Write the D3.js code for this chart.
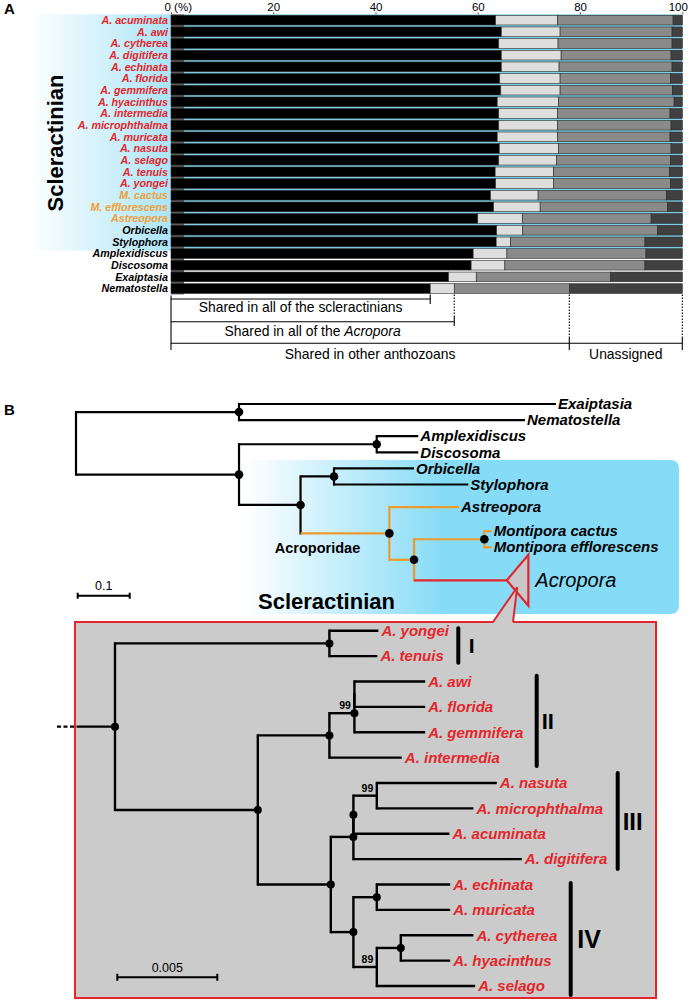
<!DOCTYPE html>
<html><head><meta charset="utf-8">
<script src="https://cdn.jsdelivr.net/npm/d3@7"></script>
<style>
body{margin:0;background:#fff}
svg{display:block}
text{font-family:"Liberation Sans",Arial,Helvetica,sans-serif}
</style>
</head><body>
<svg id="c" width="689" height="1002"></svg>
<script>
// ---------------- DATA ----------------
const species = ["A. acuminata","A. awi","A. cytherea","A. digitifera","A. echinata","A. florida","A. gemmifera","A. hyacinthus","A. intermedia","A. microphthalma","A. muricata","A. nasuta","A. selago","A. tenuis","A. yongei","M. cactus","M. efflorescens","Astreopora","Orbicella","Stylophora","Amplexidiscus","Discosoma","Exaiptasia","Nematostella"];
const speciesGroup = ["Acropora","Acropora","Acropora","Acropora","Acropora","Acropora","Acropora","Acropora","Acropora","Acropora","Acropora","Acropora","Acropora","Acropora","Acropora","Acroporidae","Acroporidae","Acroporidae","Scleractinia","Scleractinia","other","other","other","other"];
const sharedScleractinians = [63.5,64.6,64.1,64.6,64.6,64.3,64.5,63.8,64.1,64.1,63.8,64.2,64.1,63.4,63.5,62.5,63.1,60.0,63.7,63.6,59.1,58.7,54.3,50.7];
const sharedAcropora      = [12.1,11.5,11.6,11.7,11.3,11.8,11.6,12.0,11.5,11.5,11.8,11.6,11.3,11.4,11.3,9.3,9.1,8.7,5.1,2.8,6.6,6.6,5.4,4.7];
const sharedAnthozoans    = [22.6,21.9,22.3,21.5,22.1,21.6,22.0,22.6,22.0,22.2,22.0,22.0,22.3,22.7,22.9,25.1,24.9,25.2,26.4,26.3,27.2,27.4,26.3,22.5];
const unassigned          = [1.8,2.0,2.0,2.2,2.0,2.3,1.9,1.6,2.4,2.2,2.4,2.2,2.3,2.5,2.3,3.1,2.9,6.1,4.8,7.3,7.1,7.3,14.0,22.1];
const percentTicks = [0,20,40,60,80,100];
const segmentKeys = ["sharedScleractinians","sharedAcropora","sharedAnthozoans","unassigned"];
const segmentColors = ["#000000","#dedede","#8a8a8a","#404040"];

// Anthozoan tree (Newick; "*" = node with filled dot)
const anthozoanNewick = "((Exaiptasia:0.6096,Nematostella:0.55)*:0.3135,((Amplexidiscus:0.08,Discosoma:0.08)*:0.2648,((Orbicella:0.1538,Stylophora:0.2583)*:0.0644,(Astreopora:0.134,((Montipora cactus:0.0142,Montipora efflorescens:0.0142)*:0.1352,Acropora:0.1783)*:0.0475)Acroporidae*:0.1708)*:0.1183)*:0.3135);";
const anthozoanLeaves = ["Exaiptasia","Nematostella","Amplexidiscus","Discosoma","Orbicella","Stylophora","Astreopora","Montipora cactus","Montipora efflorescens","Acropora"];
const anthozoanLeafRows = [0,1,2,3,4,5,6.4,7.9,8.9,10.95];
const acroporaCollapsedDepth = 0.0415;
const acroporaCollapsedRows = 1.58;

// Acropora tree
const acroporaNewick = "((A. yongei:0.00245,A. tenuis:0.0024)*:0.01072,((((A. awi:0.00354,A. florida:0.00354):0,A. gemmifera:0.00354)99*:0.00125,A. intermedia:0.00362)*:0.00358,((((A. nasuta:0.006,A. microphthalma:0.00483)99:0.00117,A. acuminata:0.0048)*:0,A. digitifera:0.00842)*:0.00113,((A. echinata:0.00367,A. muricata:0.00367)*:0.00117,((A. cytherea:0.00363,A. hyacinthus:0.00247)*:0.0012,A. selago:0.00492)89:0.00117)*:0.00113)*:0.00365)*:0.00714)*;";
const acroporaLeaves = ["A. yongei","A. tenuis","A. awi","A. florida","A. gemmifera","A. intermedia","A. nasuta","A. microphthalma","A. acuminata","A. digitifera","A. echinata","A. muricata","A. cytherea","A. hyacinthus","A. selago"];
const cladeNames = ["I","II","III","IV"];
const cladeFirstLeaf = ["A. yongei","A. awi","A. nasuta","A. echinata"];
const cladeLastLeaf = ["A. tenuis","A. intermedia","A. digitifera","A. selago"];

// ---------------- HELPERS ----------------
const RED = "#e3262b", ORANGE = "#ec9a2e";
const svg = d3.select("#c");
const defs = svg.append("defs");
function hGrad(id, x1, x2, stops){
  const g = defs.append("linearGradient").attr("id",id).attr("gradientUnits","userSpaceOnUse")
    .attr("x1",x1).attr("x2",x2).attr("y1",0).attr("y2",0);
  stops.forEach(s=>g.append("stop").attr("offset",s[0]).attr("stop-color",s[1]).attr("stop-opacity",s[2]));
}
hGrad("gA", 28, 171, [[0,"#ffffff",1],[0.35,"#e2f6fc",1],[1,"#aae4f7",1]]);
hGrad("gB", 245, 445, [[0,"#ffffff",1],[1,"#86dbf7",1]]);

function parseNewick(s){
  let i=0;
  function node(){
    const n={children:[]};
    if(s[i]==="("){ i++; n.children.push(node()); while(s[i]===","){ i++; n.children.push(node()); } i++; }
    let lab=""; while(i<s.length && !",():;".includes(s[i])) lab+=s[i++];
    lab=lab.trim(); n.dot=lab.endsWith("*"); n.name=lab.replace("*","");
    n.len=0;
    if(s[i]===":"){ i++; let num=""; while(i<s.length && !",();".includes(s[i])) num+=s[i++]; n.len=+num; }
    if(!n.children.length) delete n.children;
    return n;
  }
  return node();
}
function layoutTree(newick, leaves, rows, xs, ys){
  const root=d3.hierarchy(parseNewick(newick));
  root.each(n=>{ n.dist = n.parent ? n.parent.dist + n.data.len : 0; n.px = xs(n.dist); });
  root.eachAfter(n=>{
    if(!n.children) n.py = ys(rows[leaves.indexOf(n.data.name)]);
    else n.py = (n.children[0].py + n.children[n.children.length-1].py)/2;
  });
  return root;
}
function drawBranches(g, root, colorOf, sw){
  root.descendants().filter(n=>n.children).forEach(n=>{
    const ys=n.children.map(c=>c.py);
    g.append("line").attr("x1",n.px).attr("x2",n.px).attr("y1",d3.min(ys)).attr("y2",d3.max(ys))
      .attr("stroke",colorOf(n)).attr("stroke-width",sw).attr("stroke-linecap","square");
    n.children.forEach(c=>{
      g.append("line").attr("x1",n.px).attr("x2",c.px).attr("y1",c.py).attr("y2",c.py)
        .attr("stroke",colorOf(c)).attr("stroke-width",sw).attr("stroke-linecap","butt");
    });
  });
}
function drawDots(g, root, r){
  g.selectAll(null).data(root.descendants().filter(n=>n.data.dot)).join("circle")
    .attr("cx",d=>d.px).attr("cy",d=>d.py).attr("r",r).attr("fill","#000");
}

// ---------------- PANEL A ----------------
const gA = svg.append("g");
gA.append("text").attr("x",4).attr("y",14).attr("font-size",15).attr("font-weight","bold").text("A");

const xA = d3.scaleLinear().domain([0,100]).range([171,682.3]);
const yA = d3.scaleBand().domain(species).range([14.3,294.4]).paddingInner(0.17).paddingOuter(0.085);
const step = yA.step();
const scleraEnd = yA("Stylophora") + step;   // last scleractinian row

gA.append("rect").attr("x",28).attr("y",14.3).attr("width",143).attr("height",scleraEnd-14.3+2).attr("fill","url(#gA)");
gA.append("rect").attr("x",171).attr("y",14.3).attr("width",13).attr("height",294.4-14.3).attr("fill","#5a5a5a");
gA.append("rect").attr("x",184).attr("y",14.3).attr("width",xA(100)-184).attr("height",scleraEnd-14.3).attr("fill","#7fd0e6");

const rowsA = species.map((s,i)=>({species:s, group:speciesGroup[i], sharedScleractinians:sharedScleractinians[i], sharedAcropora:sharedAcropora[i], sharedAnthozoans:sharedAnthozoans[i], unassigned:unassigned[i]}));
const stacked = d3.stack().keys(segmentKeys)(rowsA);
stacked.forEach((layer,k)=>{
  gA.append("g").selectAll("rect").data(layer).join("rect")
    .attr("x",d=>xA(d[0])).attr("width",d=>xA(d[1])-xA(d[0]))
    .attr("y",d=>yA(d.data.species)).attr("height",yA.bandwidth())
    .attr("fill",segmentColors[k]).attr("stroke","#2a2a2a").attr("stroke-width",0.6);
});

const axA = d3.axisTop(xA).tickValues(percentTicks).tickSize(2).tickPadding(1).tickFormat(d=>d===0?"0 (%)":d);
const axG = gA.append("g").attr("transform","translate(0,14.3)").call(axA);
axG.select(".domain").remove();
axG.selectAll("text").attr("font-size",11.5).attr("fill","#000").attr("font-family","Liberation Sans, Arial, sans-serif");
axG.selectAll(".tick line").attr("stroke","#555");
axG.selectAll(".tick").filter(d=>d===0).select("text").attr("text-anchor","start").attr("dx",-7);
axG.selectAll(".tick").filter(d=>d===100).select("text").attr("dx",-4.5);

const labColor = g => g==="Acropora"?RED:(g==="Acroporidae"?"#f0a035":"#000");
gA.append("g").selectAll("text").data(rowsA).join("text")
  .attr("x",168).attr("y",d=>yA(d.species)+yA.bandwidth()/2+3.9)
  .attr("text-anchor","end").attr("font-size",10.7).attr("font-weight","bold").attr("font-style","italic")
  .attr("fill",d=>labColor(d.group)).text(d=>d.species);

gA.append("text").attr("transform","translate(63,143) rotate(-90)").attr("text-anchor","middle")
  .attr("font-size",22).attr("font-weight","bold").text("Scleractinian");

// brackets (from Nematostella row)
const nemIdx = species.indexOf("Nematostella");
const c1 = sharedScleractinians[nemIdx];
const c2 = c1 + sharedAcropora[nemIdx];
const c3 = c2 + sharedAnthozoans[nemIdx];
const x0 = xA(0), bottomA = 294.4;
const bk = gA.append("g").attr("stroke","#000").attr("stroke-width",1.1).attr("fill","none");
bk.append("line").attr("x1",x0).attr("x2",x0).attr("y1",bottomA+1).attr("y2",350);
bk.append("line").attr("x1",x0).attr("x2",xA(c1)).attr("y1",299).attr("y2",299);
bk.append("line").attr("x1",xA(c1)).attr("x2",xA(c1)).attr("y1",bottomA).attr("y2",304);
bk.append("line").attr("x1",x0).attr("x2",xA(c2)).attr("y1",321.7).attr("y2",321.7);
bk.append("line").attr("x1",xA(c2)).attr("x2",xA(c2)).attr("y1",bottomA).attr("y2",317).attr("stroke-dasharray","1.5,1.5");
bk.append("line").attr("x1",xA(c2)).attr("x2",xA(c2)).attr("y1",317).attr("y2",326);
bk.append("line").attr("x1",x0).attr("x2",xA(100)).attr("y1",343.3).attr("y2",343.3);
[c3,100].forEach(v=>{
  bk.append("line").attr("x1",xA(v)).attr("x2",xA(v)).attr("y1",bottomA).attr("y2",337).attr("stroke-dasharray","1.5,1.5");
  bk.append("line").attr("x1",xA(v)).attr("x2",xA(v)).attr("y1",337).attr("y2",350);
});
const bt = gA.append("g").attr("font-size",13.9).attr("text-anchor","middle");
bt.append("text").attr("x",(x0+xA(c1))/2).attr("y",311.5).text("Shared in all of the scleractinians");
const t2 = bt.append("text").attr("x",(x0+xA(c2))/2).attr("y",335.8);
t2.append("tspan").text("Shared in all of the ");
t2.append("tspan").attr("font-style","italic").text("Acropora");
bt.append("text").attr("x",(x0+xA(c3))/2).attr("y",359).text("Shared in other anthozoans");
bt.append("text").attr("x",(xA(c3)+xA(100))/2).attr("y",359).text("Unassigned");

// ---------------- PANEL B (anthozoan tree) ----------------
const gB = svg.append("g");
gB.append("text").attr("x",4).attr("y",415).attr("font-size",15).attr("font-weight","bold").text("B");

gB.append("rect").attr("x",245).attr("y",460).attr("width",679-245).attr("height",614-460).attr("rx",8).attr("fill","url(#gB)");

const xT = d3.scaleLinear().domain([0,1]).range([76,76+520]);
const yT = d3.scaleLinear().domain([0,1]).range([404,420.1]);
const rootT = layoutTree(anthozoanNewick, anthozoanLeaves, anthozoanLeafRows, xT, yT);
const inAcroporidae = n => n.ancestors().some(a=>a.data.name==="Acroporidae");
const colorT = n => n.data.name==="Acropora" ? RED : (inAcroporidae(n) ? ORANGE : "#000");
const treeT = gB.append("g");
drawBranches(treeT, rootT, colorT, 2.2);

// collapsed Acropora clade
const acro = rootT.leaves().find(n=>n.data.name==="Acropora");
const triW = xT(acroporaCollapsedDepth)-xT(0), triH = yT(acroporaCollapsedRows)-yT(0);
treeT.append("path").attr("d",`M${acro.px},${acro.py}L${acro.px+triW},${acro.py-triH}L${acro.px+triW},${acro.py+triH}Z`)
  .attr("fill","#c8c8c8").attr("stroke",RED).attr("stroke-width",2.2).attr("stroke-linejoin","miter");
drawDots(treeT, rootT, 4.3);

treeT.selectAll("text.tip").data(rootT.leaves().filter(n=>n.data.name!=="Acropora")).join("text")
  .attr("x",d=>d.px+2).attr("y",d=>d.py+5.2).attr("font-size",15).attr("font-weight","bold").attr("font-style","italic")
  .text(d=>d.data.name);
treeT.append("text").attr("x",acro.px+triW+7).attr("y",acro.py+7).attr("font-size",20).attr("font-style","italic").text("Acropora");

const acrNode = rootT.descendants().find(n=>n.data.name==="Acroporidae");
treeT.append("text").attr("x",acrNode.parent.px+17).attr("y",acrNode.py+20).attr("text-anchor","middle")
  .attr("font-size",14.5).attr("font-weight","bold").text("Acroporidae");
gB.append("text").attr("x",258).attr("y",609).attr("font-size",22).attr("font-weight","bold").text("Scleractinian");

// scale bar 0.1
const sbY = 595.7, sbX = xT(0)+1.7;
const sb = gB.append("g").attr("stroke","#000").attr("stroke-width",2);
sb.append("line").attr("x1",sbX).attr("x2",sbX+xT(0.1)-xT(0)).attr("y1",sbY).attr("y2",sbY);
[sbX, sbX+xT(0.1)-xT(0)].forEach(x=>sb.append("line").attr("x1",x).attr("x2",x).attr("y1",sbY-3).attr("y2",sbY+3));
gB.append("text").attr("x",sbX+(xT(0.1)-xT(0))/2).attr("y",589.5).attr("text-anchor","middle").attr("font-size",12.5).text("0.1");

// ---------------- Acropora box ----------------
const gC = svg.append("g");
gC.append("rect").attr("x",75).attr("y",622).attr("width",656-75).attr("height",998-622).attr("fill","#cbcbcb").attr("stroke",RED).attr("stroke-width",2);
// callout wedge to the collapsed clade
const tipX = acro.px + triW*2/3 - 4, tipY = acro.py + 7;
gC.append("path").attr("d",`M493,623.2L${tipX},${tipY}L513,623.2Z`).attr("fill","#cbcbcb");
gC.append("path").attr("d",`M493,622L${tipX},${tipY}L513,622`).attr("fill","none").attr("stroke",RED).attr("stroke-width",2).attr("stroke-linejoin","miter");

const xL = d3.scaleLinear().domain([0,0.005]).range([115,215]);
const yL = d3.scaleLinear().domain([0,1]).range([630.7,656.08]);
const rootL = layoutTree(acroporaNewick, acroporaLeaves, acroporaLeaves.map((d,i)=>i), xL, yL);
const treeL = gC.append("g");
treeL.append("line").attr("x1",57).attr("x2",79).attr("y1",rootL.py).attr("y2",rootL.py).attr("stroke","#000").attr("stroke-width",2.4).attr("stroke-dasharray","4,2.5");
treeL.append("line").attr("x1",79).attr("x2",rootL.px).attr("y1",rootL.py).attr("y2",rootL.py).attr("stroke","#000").attr("stroke-width",2.4);
drawBranches(treeL, rootL, ()=>"#000", 2.4);
drawDots(treeL, rootL, 4);
treeL.selectAll("text.sup").data(rootL.descendants().filter(n=>n.children && /^\d+$/.test(n.data.name))).join("text")
  .attr("x",d=>d.px-3.5).attr("y",d=>d.py-4).attr("text-anchor","end").attr("font-size",10.5).attr("font-weight","bold").text(d=>d.data.name);
treeL.selectAll("text.tip").data(rootL.leaves()).join("text")
  .attr("x",d=>d.px+3).attr("y",d=>d.py+5.3).attr("font-size",15).attr("font-weight","bold").attr("font-style","italic")
  .attr("fill",RED).text(d=>d.data.name);

// clade bars
const barX = [458.3,536.7,617.7,570.7], padTop=[2.4,5.7,10,1.6], padBot=[6.7,8.4,10,9], labDx=[10.5,5,5,6.5], labFs=[21,22,24,25];
cladeNames.forEach((c,i)=>{
  const y1 = yL(acroporaLeaves.indexOf(cladeFirstLeaf[i]))-padTop[i];
  const y2 = yL(acroporaLeaves.indexOf(cladeLastLeaf[i]))+padBot[i];
  gC.append("line").attr("x1",barX[i]).attr("x2",barX[i]).attr("y1",y1).attr("y2",y2).attr("stroke","#000").attr("stroke-width",4).attr("stroke-linecap","round");
  gC.append("text").attr("x",barX[i]+labDx[i]).attr("y",(y1+y2)/2+labFs[i]*0.36).attr("font-size",labFs[i]).attr("font-weight","bold").text(c);
});

// scale bar 0.005
const sb2Y = 977.3, sb2X = xL(0)+2.3, sb2W = xL(0.005)-xL(0);
const sb2 = gC.append("g").attr("stroke","#000").attr("stroke-width",2);
sb2.append("line").attr("x1",sb2X).attr("x2",sb2X+sb2W).attr("y1",sb2Y).attr("y2",sb2Y);
[sb2X, sb2X+sb2W].forEach(x=>sb2.append("line").attr("x1",x).attr("x2",x).attr("y1",sb2Y-3.5).attr("y2",sb2Y+3.5));
gC.append("text").attr("x",sb2X+sb2W/2).attr("y",972).attr("text-anchor","middle").attr("font-size",12.5).text("0.005");
</script>
</body></html>
